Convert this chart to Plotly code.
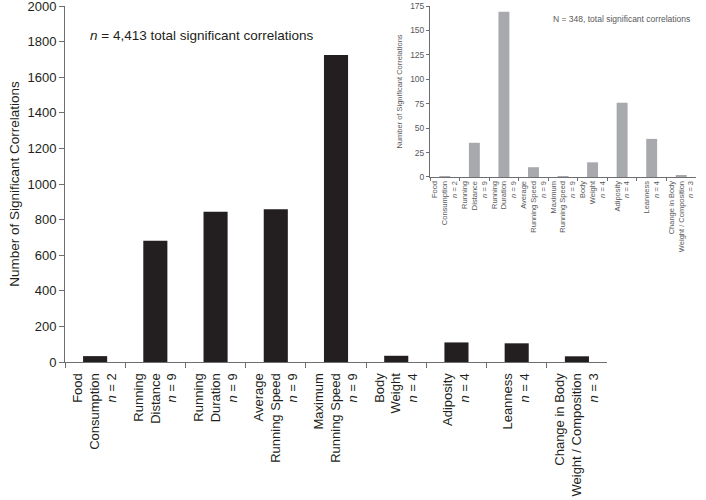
import plotly.graph_objects as go

categories = [
    "Food<br>Consumption<br><i>n</i> = 2",
    "Running<br>Distance<br><i>n</i> = 9",
    "Running<br>Duration<br><i>n</i> = 9",
    "Average<br>Running Speed<br><i>n</i> = 9",
    "Maximum<br>Running Speed<br><i>n</i> = 9",
    "Body<br>Weight<br><i>n</i> = 4",
    "Adiposity<br><i>n</i> = 4",
    "Leanness<br><i>n</i> = 4",
    "Change in Body<br>Weight / Composition<br><i>n</i> = 3",
]
main_values = [33, 681, 844, 858, 1725, 35, 110, 105, 32]
inset_values = [1, 35, 169, 10, 1, 15, 76, 39, 2]
main_yticks = [0, 200, 400, 600, 800, 1000, 1200, 1400, 1600, 1800, 2000]
inset_yticks = [0, 25, 50, 75, 100, 125, 150, 175]

TXT = "#231f20"
AX = "#6d6e71"
GR = "#58595b"
FONT = "Liberation Sans, Arial, sans-serif"

fig = go.Figure()
fig.add_trace(go.Bar(x=categories, y=main_values, marker_color="#231f20",
                     marker_line_width=0, width=0.4, xaxis="x", yaxis="y",
                     showlegend=False))
fig.add_trace(go.Bar(x=categories, y=inset_values, marker_color="#a7a9ac",
                     marker_line_width=0, width=0.37, xaxis="x2", yaxis="y2",
                     showlegend=False))

fig.update_layout(
    width=706, height=500,
    margin=dict(l=65, r=10, t=6, b=138, autoexpand=False),
    plot_bgcolor="white", paper_bgcolor="white",
    font=dict(family=FONT, color=TXT),
    xaxis=dict(domain=[0, 0.859], type="category", tickangle=-90,
               showline=True, linecolor=AX, linewidth=1, ticks="outside",
               tickson="boundaries", ticklen=5, tickcolor=AX,
               ticklabelstandoff=5,
               tickfont=dict(size=13, color=TXT), showgrid=False,
               automargin=False, anchor="y"),
    yaxis=dict(domain=[0, 1], range=[0, 2000], tickvals=main_yticks,
               showline=True, linecolor=AX, linewidth=1, ticks="outside",
               ticklen=5, tickcolor=AX, showgrid=False, zeroline=False,
               tickfont=dict(size=13, color=TXT), automargin=False,
               ticklabeloverflow="allow",
               title=dict(text="Number of Significant Correlations",
                          font=dict(size=13.5, color=TXT), standoff=4),
               anchor="x"),
    xaxis2=dict(domain=[0.5785, 1.0], type="category", tickangle=-90,
                showline=True, linecolor=AX, linewidth=1, ticks="outside",
                tickson="boundaries", ticklen=3, tickcolor=AX,
                tickfont=dict(size=7.5, color=GR), showgrid=False,
                automargin=False, anchor="y2"),
    yaxis2=dict(domain=[0.5197, 1.0], range=[0, 175], tickvals=inset_yticks,
                showline=True, linecolor=AX, linewidth=1, ticks="outside",
                ticklen=3, tickcolor=AX, showgrid=False, zeroline=False,
                tickfont=dict(size=8.5, color=GR), automargin=False,
                ticklabeloverflow="allow",
                title=dict(text="Number of Significant Correlations",
                           font=dict(size=7.5, color=GR), standoff=6),
                anchor="x2"),
    annotations=[
        dict(text="<i>n</i> = 4,413 total significant correlations",
             xref="paper", yref="paper", x=(88 - 65) / 631, y=(362 - 36) / 356,
             xanchor="left", yanchor="middle", showarrow=False,
             font=dict(size=13.5, color=TXT)),
        dict(text="N = 348, total significant correlations",
             xref="paper", yref="paper", x=(692 - 65) / 631, y=(362 - 19) / 356,
             xanchor="right", yanchor="middle", showarrow=False,
             font=dict(size=8.5, color=GR)),
    ],
)

fig.write_html("out.html", config={"displayModeBar": False},
               post_script="document.body.style.margin='0';")
